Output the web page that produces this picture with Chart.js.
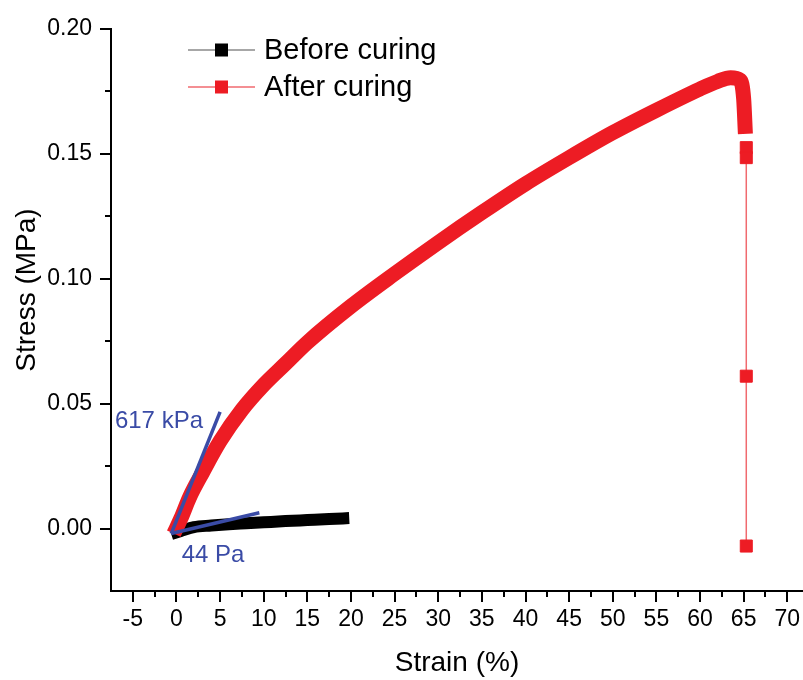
<!DOCTYPE html>
<html>
<head>
<meta charset="utf-8">
<script src="https://cdn.jsdelivr.net/npm/chart.js@4/dist/chart.umd.min.js"></script>
<style>
  html, body { margin: 0; padding: 0; background: #fff; }
  canvas { display: block; }
</style>
</head>
<body>
<canvas id="myChart" width="803" height="680"></canvas>
<script>
// values: strain in %, stress in MPa
const beforeStrain = [-0.6, 0.5, 2, 4, 6, 8, 10, 12.5, 15, 17.5, 19.8];
const beforeStress = [-0.0022, -0.001, 0.0006, 0.0012, 0.0017, 0.0021, 0.0025, 0.003, 0.0034, 0.0038, 0.0042];

const afterStrain = [-0.3, 0.5, 1.5, 3, 5, 7.5, 10, 12.5, 15, 20, 25, 30, 35, 40, 45, 50, 55, 60, 62, 63.5, 64.6, 65.0, 65.2];
const afterStress = [-0.002, 0.004, 0.0125, 0.0225, 0.035, 0.0475, 0.0575, 0.066, 0.0745, 0.089, 0.102, 0.1145, 0.1265, 0.138, 0.1485, 0.1585, 0.1675, 0.176, 0.179, 0.1805, 0.1795, 0.172, 0.158];

// last few points after failure, drawn as separate squares
const tailStrain = [65.3, 65.3, 65.3, 65.3];
const tailStress = [0.1525, 0.1485, 0.061, -0.007];

// fitted moduli lines
const fitHighStrain = [-0.6, 5.0];
const fitHighStress = [-0.002, 0.0467];
const fitLowStrain = [-0.6, 9.5];
const fitLowStress = [-0.002, 0.0063];

const xTicks = [-5, 0, 5, 10, 15, 20, 25, 30, 35, 40, 45, 50, 55, 60, 65, 70];
const yTicks = [0, 0.05, 0.10, 0.15, 0.20];

const colors = {
  red: "#ed1c24",
  redLine: "#f06a6f",
  black: "#000000",
  grey: "#8a8a8a",
  blue: "#3a4ba6"
};

const FONT = "'Liberation Sans', Arial, sans-serif";

function pts(xs, ys) {
  return xs.map((x, i) => ({ x: x, y: ys[i] }));
}

const noPad = () => ({ left: 0, top: 0, right: 0, bottom: 0 });

// minor + major tick marks, legend, labels
const extras = {
  id: "extras",
  afterDraw(chart) {
    const ctx = chart.ctx;
    const xs = chart.scales.x;
    const ys = chart.scales.y;
    const area = chart.chartArea;
    ctx.save();
    ctx.strokeStyle = "#000";
    ctx.lineWidth = 2;
    for (let v = -5; v <= 70.01; v += 2.5) {
      const px = Math.round(xs.getPixelForValue(v));
      const len = Math.abs(v % 5) < 0.01 ? 11 : 6;
      ctx.beginPath();
      ctx.moveTo(px, area.bottom);
      ctx.lineTo(px, area.bottom + len);
      ctx.stroke();
    }
    for (let v = 0; v <= 0.2001; v += 0.025) {
      const py = Math.round(ys.getPixelForValue(v));
      const major = Math.abs(Math.round(v / 0.025) % 2) === 0;
      ctx.beginPath();
      ctx.moveTo(area.left, py);
      ctx.lineTo(area.left - (major ? 11 : 6), py);
      ctx.stroke();
    }

    // y axis title
    ctx.fillStyle = "#000";
    ctx.font = "28px " + FONT;
    ctx.textAlign = "center";
    ctx.textBaseline = "middle";
    ctx.translate(27, 290);
    ctx.rotate(-Math.PI / 2);
    ctx.fillText("Stress (MPa)", 0, 0);
    ctx.setTransform(1, 0, 0, 1, 0, 0);

    // legend
    const rows = [
      { y: 50, line: colors.grey, fill: colors.black, text: "Before curing" },
      { y: 87, line: colors.redLine, fill: colors.red, text: "After curing" }
    ];
    rows.forEach(r => {
      ctx.strokeStyle = r.line;
      ctx.lineWidth = 1.5;
      ctx.beginPath();
      ctx.moveTo(188, r.y);
      ctx.lineTo(255, r.y);
      ctx.stroke();
      ctx.fillStyle = r.fill;
      ctx.fillRect(215, r.y - 6.5, 13, 13);
      ctx.fillStyle = "#000";
      ctx.font = "29px " + FONT;
      ctx.textAlign = "left";
      ctx.textBaseline = "middle";
      ctx.fillText(r.text, 264, r.y + 1);
    });

    // modulus labels
    ctx.fillStyle = colors.blue;
    ctx.font = "24px " + FONT;
    ctx.textAlign = "left";
    ctx.textBaseline = "middle";
    ctx.fillText("617 kPa", xs.getPixelForValue(-7.05), ys.getPixelForValue(0.0428));
    ctx.fillText("44 Pa", xs.getPixelForValue(0.6), ys.getPixelForValue(-0.0108));
    ctx.restore();
  }
};

const data = {
  datasets: [
    {
      label: "fit 617 kPa",
      data: pts(fitHighStrain, fitHighStress),
      showLine: true,
      borderColor: colors.blue,
      borderWidth: 3.5,
      pointRadius: 0,
      order: 0
    },
    {
      label: "fit 44 Pa",
      data: pts(fitLowStrain, fitLowStress),
      showLine: true,
      borderColor: colors.blue,
      borderWidth: 3.5,
      pointRadius: 0,
      order: 0
    },
    {
      label: "After curing",
      data: pts(afterStrain, afterStress),
      showLine: true,
      borderColor: colors.red,
      borderWidth: 15,
      borderCapStyle: "butt",
      borderJoinStyle: "round",
      cubicInterpolationMode: "monotone",
      pointRadius: 0,
      order: 1
    },
    {
      label: "After curing tail",
      data: pts(tailStrain, tailStress),
      showLine: true,
      borderColor: colors.redLine,
      borderWidth: 1.5,
      pointStyle: "rect",
      pointRadius: 8.5,
      pointBackgroundColor: colors.red,
      pointBorderColor: colors.red,
      pointBorderWidth: 1,
      order: 1
    },
    {
      label: "Before curing",
      data: pts(beforeStrain, beforeStress),
      showLine: true,
      borderColor: colors.black,
      borderWidth: 12,
      borderCapStyle: "butt",
      cubicInterpolationMode: "monotone",
      pointRadius: 0,
      order: 2
    }
  ]
};

const config = {
  type: "scatter",
  data: data,
  options: {
    responsive: false,
    animation: false,
    events: [],
    layout: { autoPadding: false, padding: { top: 29, right: 0, left: 0, bottom: 0 } },
    plugins: {
      legend: { display: false },
      tooltip: { enabled: false }
    },
    scales: {
      x: {
        type: "linear",
        min: -7.5,
        max: 71.8,
        grid: { display: false, drawTicks: false },
        border: { display: true, color: "#000", width: 2 },
        afterBuildTicks: s => { s.ticks = xTicks.map(v => ({ value: v })); },
        afterFit: s => { s.height = 89; s.getPadding = noPad; },
        ticks: {
          color: "#000",
          padding: 15,
          font: { family: FONT, size: 23 },
          callback: v => String(v)
        },
        title: {
          display: true,
          text: "Strain (%)",
          color: "#000",
          font: { family: FONT, size: 28 },
          padding: { top: 0, bottom: 0 }
        }
      },
      y: {
        type: "linear",
        min: -0.025,
        max: 0.2,
        grid: { display: false, drawTicks: false },
        border: { display: true, color: "#000", width: 2 },
        afterBuildTicks: s => { s.ticks = yTicks.map(v => ({ value: v })); },
        afterFit: s => { s.width = 111; s.getPadding = noPad; },
        ticks: {
          color: "#000",
          padding: 19,
          font: { family: FONT, size: 23 },
          callback: v => Number(v).toFixed(2)
        }
      }
    }
  },
  plugins: [extras]
};

new Chart(document.getElementById("myChart").getContext("2d"), config);
</script>
</body>
</html>
